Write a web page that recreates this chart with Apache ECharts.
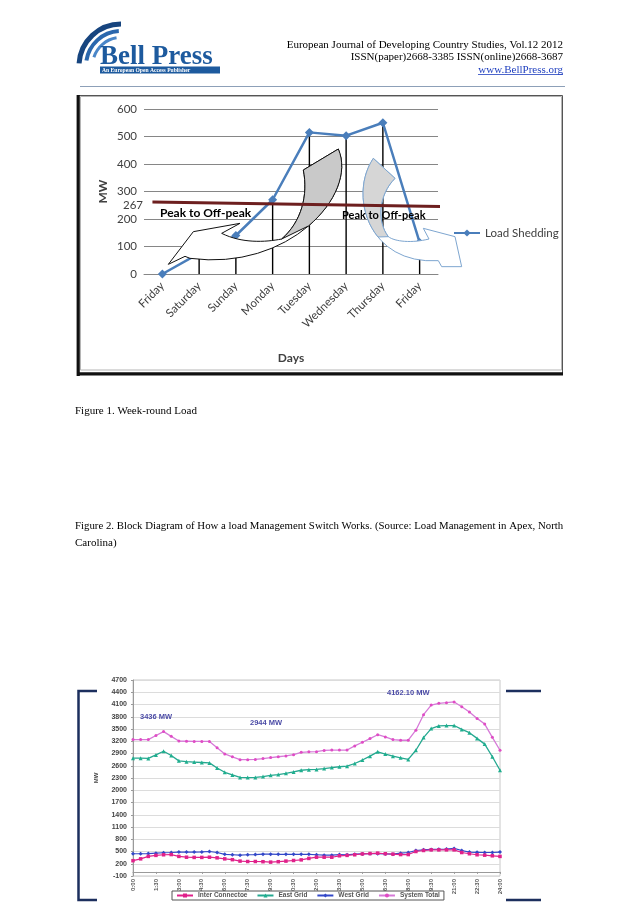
<!DOCTYPE html>
<html><head><meta charset="utf-8">
<script src="https://cdn.jsdelivr.net/npm/echarts@6/dist/echarts.min.js"></script>
<style>html,body{margin:0;padding:0;background:#fff}#c{width:638px;height:903px}</style>
</head><body><div id="c"></div>
<script>
// ---------- Figure 1 data ----------
const days = ['Friday','Saturday','Sunday','Monday','Tuesday','Wednesday','Thursday','Friday'];
const loadShedding = [0, 75, 140, 270, 515, 503, 550, 115];
const loadTicks = [0, 100, 200, 300, 400, 500, 600];
const averageLine = [[-0.27, 262], [7.6, 245]];
const averageLabel = '267';

// ---------- Figure (bottom) data ----------
const times = ['0:00','0:30','1:00','1:30','2:00','2:30','3:00','3:30','4:00','4:30','5:00','5:30','6:00','6:30','7:00','7:30','8:00','8:30','9:00','9:30','10:00','10:30','11:00','11:30','12:00','12:30','13:00','13:30','14:00','14:30','15:00','15:30','16:00','16:30','17:00','17:30','18:00','18:30','19:00','19:30','20:00','20:30','21:00','21:30','22:00','22:30','23:00','23:30','24:00'];
const interConnector = [275,320,380,405,420,425,380,360,355,355,360,345,320,300,265,255,255,250,240,250,265,280,295,330,360,360,360,395,405,420,440,450,460,445,435,425,425,500,525,540,540,540,540,475,445,420,410,395,380];
const eastGrid = [2785,2785,2780,2865,2955,2850,2720,2700,2690,2680,2670,2545,2440,2375,2315,2310,2315,2335,2365,2385,2415,2450,2490,2505,2510,2530,2555,2575,2590,2655,2740,2835,2940,2885,2835,2795,2755,2980,3290,3510,3575,3585,3585,3490,3410,3270,3130,2820,2490];
const westGrid = [445,445,450,460,470,475,485,485,485,490,500,475,430,420,410,420,425,435,435,430,430,430,430,430,420,410,410,425,420,435,440,445,445,440,435,460,475,525,540,550,555,560,575,525,485,480,475,475,485];
const systemTotal = [3240,3240,3240,3340,3436,3320,3205,3200,3195,3195,3195,3040,2890,2820,2750,2750,2755,2775,2800,2820,2840,2870,2930,2940,2945,2975,2985,2985,2985,3085,3175,3265,3360,3305,3240,3225,3225,3470,3850,4085,4130,4145,4162.1,4045,3915,3760,3620,3295,2980];
const gridTicks = [-100,200,500,800,1100,1400,1700,2000,2300,2600,2900,3200,3500,3800,4100,4400,4700];
const peakNotes = ['3436 MW', '2944 MW', '4162.10 MW'];

const serif = '"Liberation Serif","Times New Roman",serif';
const calibri = 'Lato,"Open Sans",sans-serif';
const arial = '"Liberation Sans",Arial,sans-serif';

function txt(text, x, y, font, fill, align, valign, z) {
  align = align || 'left'; valign = valign || 'middle';
  return {type:'text', x:x, y:y, z:z||30, style:{text:text, font:font, fill:fill||'#000',
    textAlign:align, textVerticalAlign:valign, align:align, verticalAlign:valign}};
}
function ln(x1,y1,x2,y2,stroke,w,z){
  return {type:'line', z:z||30, shape:{x1:x1,y1:y1,x2:x2,y2:y2}, style:{stroke:stroke, lineWidth:w}};
}
// decorative shape outline: segments in 3x-scaled local coords, sampled into a polygon
function shapePoly(segs, fill, stroke, z){
  const pts = []; let cx = 0, cy = 0;
  segs.forEach(function(s){
    if (s[0] === 'M' || s[0] === 'L') { cx = s[1]; cy = s[2]; pts.push([cx, cy]); }
    else if (s[0] === 'C') {
      for (let i = 1; i <= 16; i++) {
        const t = i/16, u = 1-t;
        const x = u*u*u*cx + 3*u*u*t*s[1] + 3*u*t*t*s[3] + t*t*t*s[5];
        const y = u*u*u*cy + 3*u*u*t*s[2] + 3*u*t*t*s[4] + t*t*t*s[6];
        pts.push([x, y]);
      }
      cx = s[5]; cy = s[6];
    }
  });
  return {type:'polygon', z:z, shape:{points:pts.map(function(p){return [75 + p[0]/3, 95 + p[1]/3];})},
    style:{fill:fill, stroke:stroke, lineWidth:1, lineJoin:'round'}};
}

const chart = echarts.init(document.getElementById('c'), null, {renderer:'canvas', width:638, height:903});

const graphics = [
  // logo
  {type:'arc', z:30, shape:{cx:121, cy:66, r:42, startAngle:Math.PI*1.02, endAngle:Math.PI*1.5}, style:{stroke:'#17457f', lineWidth:5, fill:null}},
  {type:'arc', z:30, shape:{cx:121, cy:66, r:35, startAngle:Math.PI*1.05, endAngle:Math.PI*1.48}, style:{stroke:'#2a67ad', lineWidth:4, fill:null}},
  {type:'arc', z:30, shape:{cx:121, cy:66, r:28.5, startAngle:Math.PI*1.1, endAngle:Math.PI*1.45}, style:{stroke:'#4a86c8', lineWidth:3, fill:null}},
  txt('Bell Press', 100, 57, 'bold 27px ' + serif, '#1d5a9e', 'left', 'middle'),
  {type:'rect', z:30, shape:{x:100, y:66.5, width:120, height:7}, style:{fill:'#1d5a9e'}},
  txt('An European Open Access Publisher', 102, 70.2, 'bold 5.6px ' + serif, '#ffffff', 'left', 'middle', 31),
  // header text
  txt('European Journal of Developing Country Studies, Vol.12 2012', 563, 45, '11px ' + serif, '#000', 'right'),
  txt('ISSN(paper)2668-3385 ISSN(online)2668-3687', 563, 57.5, '11px ' + serif, '#000', 'right'),
  txt('www.BellPress.org', 563, 70, '11px ' + serif, '#1f3fbf', 'right'),
  ln(478, 74.5, 563, 74.5, '#1f3fbf', 0.8),
  ln(80, 86.5, 565, 86.5, '#8da0b8', 1),
  // figure 1 frame
  {type:'rect', z:1, shape:{x:77.5, y:95.5, width:485, height:279}, style:{fill:null, stroke:'#555', lineWidth:1}},
  {type:'rect', z:1, shape:{x:80.5, y:96.5, width:481, height:273.5}, style:{fill:null, stroke:'#b5b5b5', lineWidth:1}},
  ln(78.2, 95, 78.2, 376, '#111', 3.2, 2),
  ln(77, 373.8, 563, 373.8, '#111', 3.2, 2),
  // captions
  txt('Figure 1. Week-round Load', 75, 411, '11px ' + serif, '#000'),
  txt('Figure 2. Block Diagram of How a load Management Switch Works. (Source: Load Management in Apex, North', 75, 526, '10.8px ' + serif, '#000'),
  txt('Carolina)', 75, 543, '11px ' + serif, '#000'),
  // arrows (figure 1)
  shapePoly([['M',790,162],['C',850,300,640,530,345,490],['L',330,484],['L',280,508],['L',355,410],['L',495,385],['L',440,415],
             ['C',500,445,570,442,620,432],['C',680,380,700,300,685,225],['L',790,162]], '#ffffff', '#111', 6),
  shapePoly([['M',685,225],['L',790,162],['C',820,231,782.5,323,700.6,392.75],['L',620,432],['C',680,380,700,300,685,225]], '#c9c9c9', '#111', 7),
  shapePoly([['M',895,190],['C',820,300,880,510,1090,497],['L',1100,515],['L',1160,515],['L',1140,425],['L',1045,400],['L',1062,432],
             ['C',1010,445,960,440,940,425],['C',905,380,910,300,960,250],['L',895,190]], '#ffffff', '#7ea6d0', 6),
  shapePoly([['M',960,250],['L',895,190],['C',850,256,853.6,358,909,426],['L',940,425],['C',905,380,910,300,960,250]], '#d6d6d6', '#7ea6d0', 7),
  txt('Peak to Off-peak', 160, 213.5, 'bold 12px ' + calibri, '#000', 'left', 'middle', 40),
  txt('Peak to Off-peak', 342, 215, 'bold 11px ' + calibri, '#000', 'left', 'middle', 40),
  txt(averageLabel, 143, 205, '11.5px ' + calibri, '#404040', 'right', 'middle', 40),
  // bottom figure brackets
  {type:'polyline', z:30, shape:{points:[[97,691],[78.5,691],[78.5,900],[97,900]]}, style:{stroke:'#1c2f5e', lineWidth:2.5, fill:null}},
  ln(506, 691, 541, 691, '#1c2f5e', 2.5),
  ln(506, 900, 541, 900, '#1c2f5e', 2.5),
  // bottom figure notes
  txt(peakNotes[0], 140, 717, 'bold 7.5px ' + arial, '#4b4ba6'),
  txt(peakNotes[1], 250, 723, 'bold 7.5px ' + arial, '#4b4ba6'),
  txt(peakNotes[2], 387, 693, 'bold 7.5px ' + arial, '#4b4ba6')
];

const option = {
  animation: false,
  backgroundColor: '#ffffff',
  grid: [
    {left:144, top:109, width:294, height:165, outerBoundsMode:'none', containLabel:false},
    {left:133, top:680, width:367, height:196, show:true, borderColor:'#c8c8c8', borderWidth:1, backgroundColor:'rgba(0,0,0,0)', outerBoundsMode:'none', containLabel:false}
  ],
  legend: [
    {data:['Load Shedding'], left:453, top:227, itemWidth:26, itemHeight:9, padding:0,
     textStyle:{fontSize:11.5, color:'#404040', fontFamily:calibri}},
    {data:['Inter Connectoe','East Grid','West Grid','System Total'], left:172, top:891, padding:[1,4], itemGap:9,
     itemWidth:16, itemHeight:5, borderColor:'#555', borderWidth:1, backgroundColor:'#fff',
     textStyle:{fontSize:6.5, fontWeight:'bold', color:'#555', fontFamily:arial}}
  ],
  xAxis: [
    {type:'category', gridIndex:0, data:days, boundaryGap:true,
     axisLine:{show:true, lineStyle:{color:'#868686', width:1}}, axisTick:{show:false}, splitLine:{show:false},
     axisLabel:{rotate:45, margin:10, interval:0, fontSize:11.5, color:'#404040', fontFamily:calibri},
     name:'Days', nameLocation:'middle', nameGap:78, nameMoveOverlap:false,
     nameTextStyle:{fontSize:12, fontWeight:'bold', color:'#404040', fontFamily:calibri}},
    {type:'value', gridIndex:0, min:-0.5, max:7.5, show:false},
    {type:'category', gridIndex:1, data:times, boundaryGap:false,
     axisLine:{show:true, lineStyle:{color:'#9a9a9a', width:1}},
     axisTick:{show:true, interval:2, length:2, lineStyle:{color:'#9a9a9a'}}, splitLine:{show:false},
     axisLabel:{rotate:90, margin:3, interval:2, fontSize:6, fontWeight:'bold', color:'#555', fontFamily:arial}}
  ],
  yAxis: [
    {type:'value', gridIndex:0, min:loadTicks[0], max:loadTicks[loadTicks.length-1], interval:100,
     axisLine:{show:false}, axisTick:{show:false},
     splitLine:{show:true, lineStyle:{color:'#868686', width:1}},
     axisLabel:{margin:7, fontSize:11.5, color:'#404040', fontFamily:calibri},
     name:'MW', nameLocation:'middle', nameGap:35, nameRotate:90, nameMoveOverlap:false,
     nameTextStyle:{fontSize:12, fontWeight:'bold', color:'#404040', fontFamily:calibri}},
    {type:'value', gridIndex:1, min:gridTicks[0], max:gridTicks[gridTicks.length-1], interval:300,
     axisLine:{show:true, lineStyle:{color:'#9a9a9a'}}, axisTick:{show:true, length:2, lineStyle:{color:'#9a9a9a'}},
     splitLine:{show:true, lineStyle:{color:'#dcdcdc', width:1}},
     axisLabel:{margin:6, fontSize:7, fontWeight:'bold', color:'#444', fontFamily:arial,
       formatter:function(v){ return String(v); }},
     name:'MW', nameLocation:'middle', nameGap:34, nameRotate:90, nameMoveOverlap:false,
     nameTextStyle:{fontSize:6, fontWeight:'bold', color:'#444', fontFamily:arial}}
  ],
  series: [
    {name:'Drop lines', type:'bar', xAxisIndex:0, yAxisIndex:0, data:loadShedding, barWidth:1.4,
     itemStyle:{color:'#000'}, silent:true, z:1},
    {name:'Load Shedding', type:'line', xAxisIndex:0, yAxisIndex:0, data:loadShedding,
     symbol:'diamond', symbolSize:9, itemStyle:{color:'#4a7ebb'}, lineStyle:{color:'#4a7ebb', width:2.5}, z:3},
    {name:'Average', type:'line', xAxisIndex:1, yAxisIndex:0, data:averageLine, symbol:'none', clip:false,
     lineStyle:{color:'#6d1f1f', width:3}, z:20, silent:true},
    {name:'System Total', type:'line', xAxisIndex:2, yAxisIndex:1, data:systemTotal,
     symbol:'circle', symbolSize:3, itemStyle:{color:'#e04cc4'}, lineStyle:{color:'#d67ad8', width:1.3}, z:4},
    {name:'East Grid', type:'line', xAxisIndex:2, yAxisIndex:1, data:eastGrid,
     symbol:'triangle', symbolSize:4, itemStyle:{color:'#1fae8e'}, lineStyle:{color:'#25a890', width:1.3}, z:4},
    {name:'West Grid', type:'line', xAxisIndex:2, yAxisIndex:1, data:westGrid,
     symbol:'diamond', symbolSize:4, itemStyle:{color:'#3348c8'}, lineStyle:{color:'#3348c8', width:1.2}, z:4},
    {name:'Inter Connectoe', type:'line', xAxisIndex:2, yAxisIndex:1, data:interConnector,
     symbol:'rect', symbolSize:3.5, itemStyle:{color:'#e0218a'}, lineStyle:{color:'#e0218a', width:1.2}, z:5}
  ],
  graphic: {elements: graphics}
};
chart.setOption(option);
</script></body></html>
